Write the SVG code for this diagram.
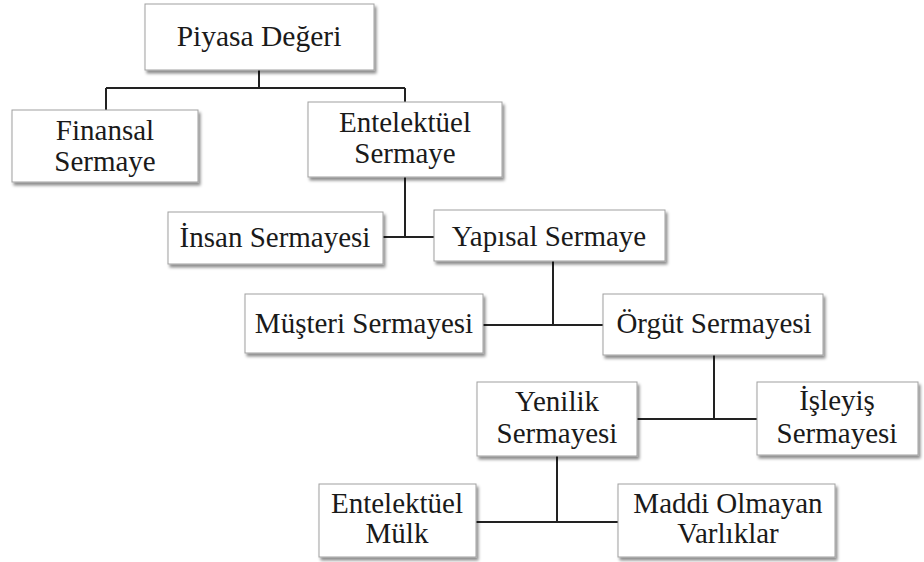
<svg xmlns="http://www.w3.org/2000/svg" width="924" height="562" viewBox="0 0 924 562">
<defs>
<filter id="sh" x="-10%" y="-10%" width="130%" height="140%">
<feDropShadow dx="2" dy="3" stdDeviation="1.5" flood-color="#000" flood-opacity="0.45"/>
</filter>
<style>
.box{fill:#fff;stroke:#a0a0a0;stroke-width:1;filter:url(#sh)}
.t{font-family:'Liberation Serif','Times New Roman','DejaVu Serif',serif;font-size:29px;fill:#1a1a1a;text-anchor:middle}
.c{fill:none;stroke:#222;stroke-width:2}
</style>
</defs>
<rect width="924" height="562" fill="#fff"/>
<g id="connectors">
<path class="c" d="M259,70 V88 M106,88 H405 M106,88 V110 M405,88 V102"/>
<path class="c" d="M405,177 V237 M383,237 H434"/>
<path class="c" d="M553,261 V325 M483,325 H603"/>
<path class="c" d="M714,355 V419 M637,419 H757"/>
<path class="c" d="M557,456 V522 M476,522 H618"/>
</g>
<g id="piyasa"><rect class="box" x="145" y="4" width="229" height="66"/><text class="t" x="259" y="46" style="font-size:29.5px">Piyasa Değeri</text></g>
<g id="finansal"><rect class="box" x="12" y="110" width="186" height="72"/><text class="t" x="105" y="140">Finansal</text><text class="t" x="105" y="171">Sermaye</text></g>
<g id="entelektuel"><rect class="box" x="308" y="102" width="194" height="75"/><text class="t" x="405" y="132">Entelektüel</text><text class="t" x="405" y="163">Sermaye</text></g>
<g id="insan"><rect class="box" x="168" y="212" width="215" height="52"/><text class="t" x="275" y="247">İnsan Sermayesi</text></g>
<g id="yapisal"><rect class="box" x="434" y="210" width="231" height="51"/><text class="t" x="549" y="246">Yapısal Sermaye</text></g>
<g id="musteri"><rect class="box" x="245" y="294" width="238" height="59"/><text class="t" x="364" y="333">Müşteri Sermayesi</text></g>
<g id="orgut"><rect class="box" x="603" y="294" width="220" height="61"/><text class="t" x="714" y="333">Örgüt Sermayesi</text></g>
<g id="yenilik"><rect class="box" x="477" y="382" width="160" height="74"/><text class="t" x="557" y="411">Yenilik</text><text class="t" x="557" y="443">Sermayesi</text></g>
<g id="isleyis"><rect class="box" x="757" y="382" width="161" height="73"/><text class="t" x="837" y="410">İşleyiş</text><text class="t" x="837" y="443">Sermayesi</text></g>
<g id="mulk"><rect class="box" x="319" y="484" width="157" height="73"/><text class="t" x="397" y="513">Entelektüel</text><text class="t" x="397" y="543">Mülk</text></g>
<g id="maddi"><rect class="box" x="618" y="484" width="217" height="73"/><text class="t" x="728" y="513">Maddi Olmayan</text><text class="t" x="728" y="543">Varlıklar</text></g>
</svg>
